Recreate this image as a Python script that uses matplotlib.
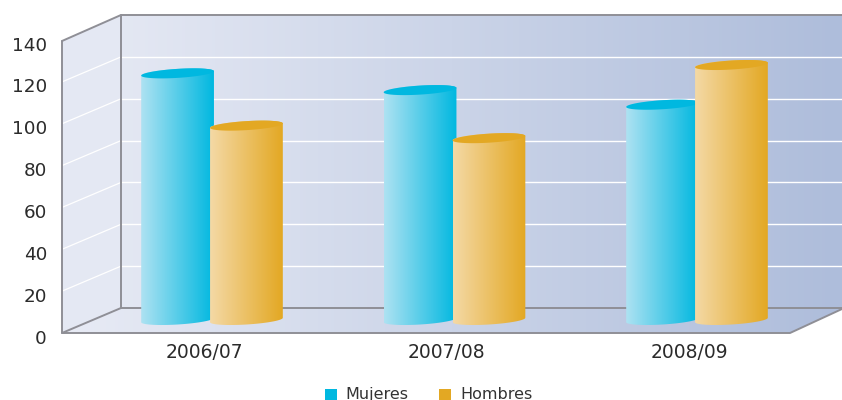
import numpy as np
import matplotlib
matplotlib.use("Agg")
import matplotlib.pyplot as plt
from matplotlib.colors import LinearSegmentedColormap
from matplotlib.patches import Polygon, Rectangle

categories = ["2006/07", "2007/08", "2008/09"]
mujeres = [118, 110, 103]
hombres = [93, 87, 122]
y_ticks = [0, 20, 40, 60, 80, 100, 120, 140]

W, H = 842, 400
GREY = "#8f8f96"

fig = plt.figure(figsize=(W / 100, H / 100), dpi=100)

# background axes is in image pixels, y going down
bg = fig.add_axes([0, 0, 1, 1])
bg.set_xlim(0, W)
bg.set_ylim(H, 0)
bg.axis("off")

# front axes: x = category index, y = value, lined up with the bar plane
base_px, px_per_unit = 320, 2.09
x0_px, group_px = 212, 242.5
ax = fig.add_axes([0, 0, 1, 1])
ax.patch.set_alpha(0)
ax.axis("off")
xlim = (-x0_px / group_px, (W - x0_px) / group_px)
ylim = ((base_px - H) / px_per_unit, base_px / px_per_unit)


def gradient(target, c1, c2, extent, clip):
    cmap = LinearSegmentedColormap.from_list("g", [c1, c2])
    im = target.imshow(np.linspace(0, 1, 256).reshape(1, -1), cmap=cmap,
                       extent=extent, aspect="auto", interpolation="bilinear",
                       zorder=target._z)
    patch = Polygon(clip, closed=True, transform=target.transData,
                    facecolor="none", edgecolor="none")
    target.add_patch(patch)
    im.set_clip_path(patch)


# =========================
# Walls and floor
# =========================
bg._z = 1
wall_ext = (62, 842, 333, 15)
gradient(bg, "#e8ebf5", "#aebddb", wall_ext, [(121, 15), (842, 15), (842, 308), (121, 308)])
gradient(bg, "#e8ebf5", "#aebddb", wall_ext, [(62, 333), (121, 308), (842, 308), (842, 309), (790, 333)])
bg.add_patch(Polygon([(62, 41), (121, 15), (121, 308), (62, 333)], closed=True,
                     facecolor="#e4e8f3", edgecolor="none", zorder=1))

for v in y_ticks:
    d = v * 41.85 / 20
    if 0 < v < 140:
        bg.plot([62, 121], [333 - d, 308 - d], color="white", lw=0.9, zorder=2)
        bg.plot([121, 842], [308 - d, 308 - d], color="white", lw=1.0, zorder=2)
    bg.text(47, 338.5 - d, str(v), ha="right", va="center", fontsize=13.2, color="#2b2b2b")

for xs, ys in [([62, 121, 842], [41, 15, 15]),
               ([62, 62, 790, 842], [41, 333, 333, 309]),
               ([121, 121, 842], [15, 308, 308]),
               ([62, 121], [333, 308])]:
    bg.plot(xs, ys, color=GREY, lw=1.4, zorder=3, solid_capstyle="round")

for i, name in enumerate(categories):
    bg.text(x0_px + group_px * i - 8, 352, name, ha="center", va="center",
            fontsize=13.5, color="#2b2b2b")

# =========================
# Legend
# =========================
for x, tx, name, c in [(325, 345, "Mujeres", "#00b8e0"), (439, 460, "Hombres", "#e3a823")]:
    bg.add_patch(Rectangle((x, 389), 12, 11, facecolor=c, edgecolor="none"))
    bg.text(tx, 394.5, name, ha="left", va="center", fontsize=11.5, color="#333333")


# =========================
# Cylinders
# =========================
def cylinder(cx, value, light, dark, z):
    half = 0.15
    ry = 4.5 / px_per_unit
    tilt = 2.2 / px_per_unit
    t = np.linspace(0, np.pi, 60)
    ex = cx - half * np.cos(t)
    # tilted ellipse, left side sits lower than the right
    offs = -tilt * np.cos(t)
    lower = offs - ry * np.sin(t)
    upper = offs + ry * np.sin(t)

    body = list(zip(ex, lower)) + list(zip(ex[::-1], value + upper[::-1]))
    ax._z = z
    gradient(ax, light, dark, (cx - half, cx + half, -20, 160), body)
    ax.fill(ex.tolist() + ex[::-1].tolist(),
            (value + upper).tolist() + (value + lower[::-1]).tolist(),
            color=dark, lw=0, zorder=z + 0.1)


offset = 0.142
for i in range(len(categories)):
    cylinder(i - offset, mujeres[i], "#aee2f2", "#00b8e0", 5 + i * 2)
    cylinder(i + offset, hombres[i], "#f4d9a6", "#e3a823", 6 + i * 2)

ax.set_xlim(*xlim)
ax.set_ylim(*ylim)
bg.set_xlim(0, W)
bg.set_ylim(H, 0)

fig.savefig("out.png", dpi=100)
plt.close(fig)
